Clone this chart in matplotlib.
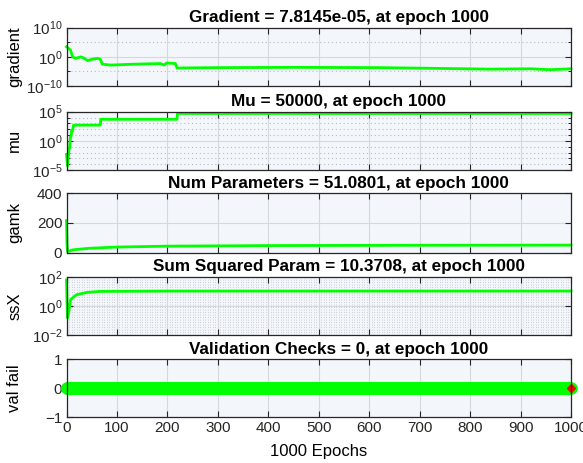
import numpy as np
import matplotlib
matplotlib.use("Agg")
import matplotlib.pyplot as plt
from matplotlib.ticker import FixedLocator, MultipleLocator, LogLocator, NullFormatter

plt.rcParams["font.family"] = ["Liberation Sans", "DejaVu Sans"]
plt.rcParams["mathtext.default"] = "regular"

# training record (epoch, value) pairs
grad_ep = [0, 8, 12, 18, 28, 33, 42, 51, 61, 67, 71, 87, 133, 186, 193, 199, 216, 219,
           300, 450, 620, 720, 840, 920, 958, 1000]
grad_val = [3e3, 2e2, 1.0, 0.3, 1.0, 0.5, 0.05, 0.15, 0.3, 0.15, 3e-3, 1.5e-3, 3e-3, 5e-3,
            1.5e-3, 8e-3, 5e-3, 1.5e-4, 2e-4, 2.5e-4, 2e-4, 1.2e-4, 6e-5, 8e-5, 4e-5, 7.8145e-5]

mu_ep = [0, 1, 2, 3, 4, 5, 6, 7, 8, 9, 10, 12, 14, 67, 68, 219, 220, 1000]
mu_val = [5e-3, 5e-4, 5e-5, 5e-4, 5e-3, 5e-2, 5e-2, 5e-1, 5e0, 5e0, 5e1, 5e1, 5e2,
          5e2, 5e3, 5e3, 5e4, 5e4]

gamk_ep = [0, 1, 2, 5, 11, 20, 47, 100, 200, 400, 700, 1000]
gamk_val = [216, 60, 8, 10, 18, 22, 30, 38, 44, 48, 50, 51.0801]

ssx_ep = [0, 1, 2, 4, 8, 14, 20, 40, 67, 200, 1000]
ssx_val = [60, 2, 0.15, 0.3, 2.6, 4.0, 5.8, 8.3, 9.8, 10.3, 10.3708]

val_ep = np.arange(0, 1001)
val_fail = np.zeros(len(val_ep))

titles = ["Gradient = 7.8145e-05, at epoch 1000",
          "Mu = 50000, at epoch 1000",
          "Num Parameters = 51.0801, at epoch 1000",
          "Sum Squared Param = 10.3708, at epoch 1000",
          "Validation Checks = 0, at epoch 1000"]
ylabels = ["gradient", "mu", "gamk", "ssX", "val fail"]

W, H = 583, 463
fig = plt.figure(figsize=(W / 100, H / 100), dpi=100)
tops = [27.7, 111.7, 193.3, 276.7, 359.3]
bots = [86.0, 170.0, 252.7, 335.0, 417.3]
left, right = 66.5, 571.0

green = "#00FF00"
face = "#F3F6FB"
axes = []
for t, b in zip(tops, bots):
    ax = fig.add_axes([left / W, 1 - b / H, (right - left) / W, (b - t) / H])
    ax.set_facecolor(face)
    for s in ax.spines.values():
        s.set_color("#262626")
        s.set_linewidth(0.9)
    ax.tick_params(direction="in", top=True, right=True, length=4, width=0.8,
                   labelsize=11, colors="#262626", pad=3)
    ax.tick_params(which="minor", direction="in", top=True, right=True, length=2, width=0.6)
    ax.set_xlim(0, 1000)
    ax.xaxis.set_major_locator(MultipleLocator(100))
    ax.grid(True, which="major", color="#D5D8DC", linewidth=0.8, linestyle="-")
    ax.set_axisbelow(True)
    axes.append(ax)

for ax, ttl, yl in zip(axes, titles, ylabels):
    ax.set_title(ttl, fontsize=12.3, fontweight="bold", pad=4, x=0.54)
    ax.set_ylabel(yl, fontsize=12)
    ax.yaxis.set_label_coords(-0.088, 0.5)
    if ax is not axes[-1]:
        ax.tick_params(labelbottom=False)

# gradient
ax = axes[0]
ax.semilogy(grad_ep, grad_val, color=green, lw=2, clip_on=False)
ax.set_ylim(1e-10, 1e10)
ax.yaxis.set_major_locator(FixedLocator([1e-10, 1, 1e10]))
ax.yaxis.set_minor_locator(FixedLocator([1e-5, 1e5]))
ax.yaxis.set_minor_formatter(NullFormatter())
ax.grid(True, which="minor", axis="y", color="#B8BCC2", linestyle=(0, (1, 2.5)), linewidth=0.8)

# mu
ax = axes[1]
ax.semilogy(mu_ep, mu_val, color=green, lw=2, clip_on=False)
ax.set_ylim(1e-5, 1e5)
ax.yaxis.set_major_locator(FixedLocator([1e-5, 1, 1e5]))
ax.yaxis.set_minor_locator(FixedLocator([10.0 ** k for k in range(-4, 5) if k != 0]))
ax.yaxis.set_minor_formatter(NullFormatter())
ax.grid(True, which="minor", axis="y", color="#B8BCC2", linestyle=(0, (1, 2.5)), linewidth=0.8)

# gamk
ax = axes[2]
ax.plot(gamk_ep, gamk_val, color=green, lw=2, clip_on=False)
ax.set_ylim(0, 400)
ax.yaxis.set_major_locator(FixedLocator([0, 200, 400]))

# ssX
ax = axes[3]
ax.semilogy(ssx_ep, ssx_val, color=green, lw=2, clip_on=False)
ax.set_ylim(1e-2, 1e2)
ax.yaxis.set_major_locator(FixedLocator([1e-2, 1, 1e2]))
ax.yaxis.set_minor_locator(LogLocator(base=10, subs=np.arange(2, 10)))
ax.yaxis.set_minor_formatter(NullFormatter())
ax.xaxis.set_minor_locator(MultipleLocator(5))
ax.grid(True, which="minor", color="#BFC3C9", linestyle=(0, (1, 2)), linewidth=0.6)
ax.tick_params(which="minor", axis="x", length=0)

# validation checks
ax = axes[4]
ax.plot(val_ep, val_fail, color=green, lw=1, marker="o", ms=8, mec=green, mfc=green,
        clip_on=False)
ax.plot([val_ep[-1]], [val_fail[-1]], marker="D", ms=4, color="red", linestyle="none",
        clip_on=False)
ax.set_ylim(-1, 1)
ax.yaxis.set_major_locator(FixedLocator([-1, 0, 1]))
ax.set_xlabel("1000 Epochs", fontsize=12, labelpad=6)

fig.savefig("out.png", dpi=100)
